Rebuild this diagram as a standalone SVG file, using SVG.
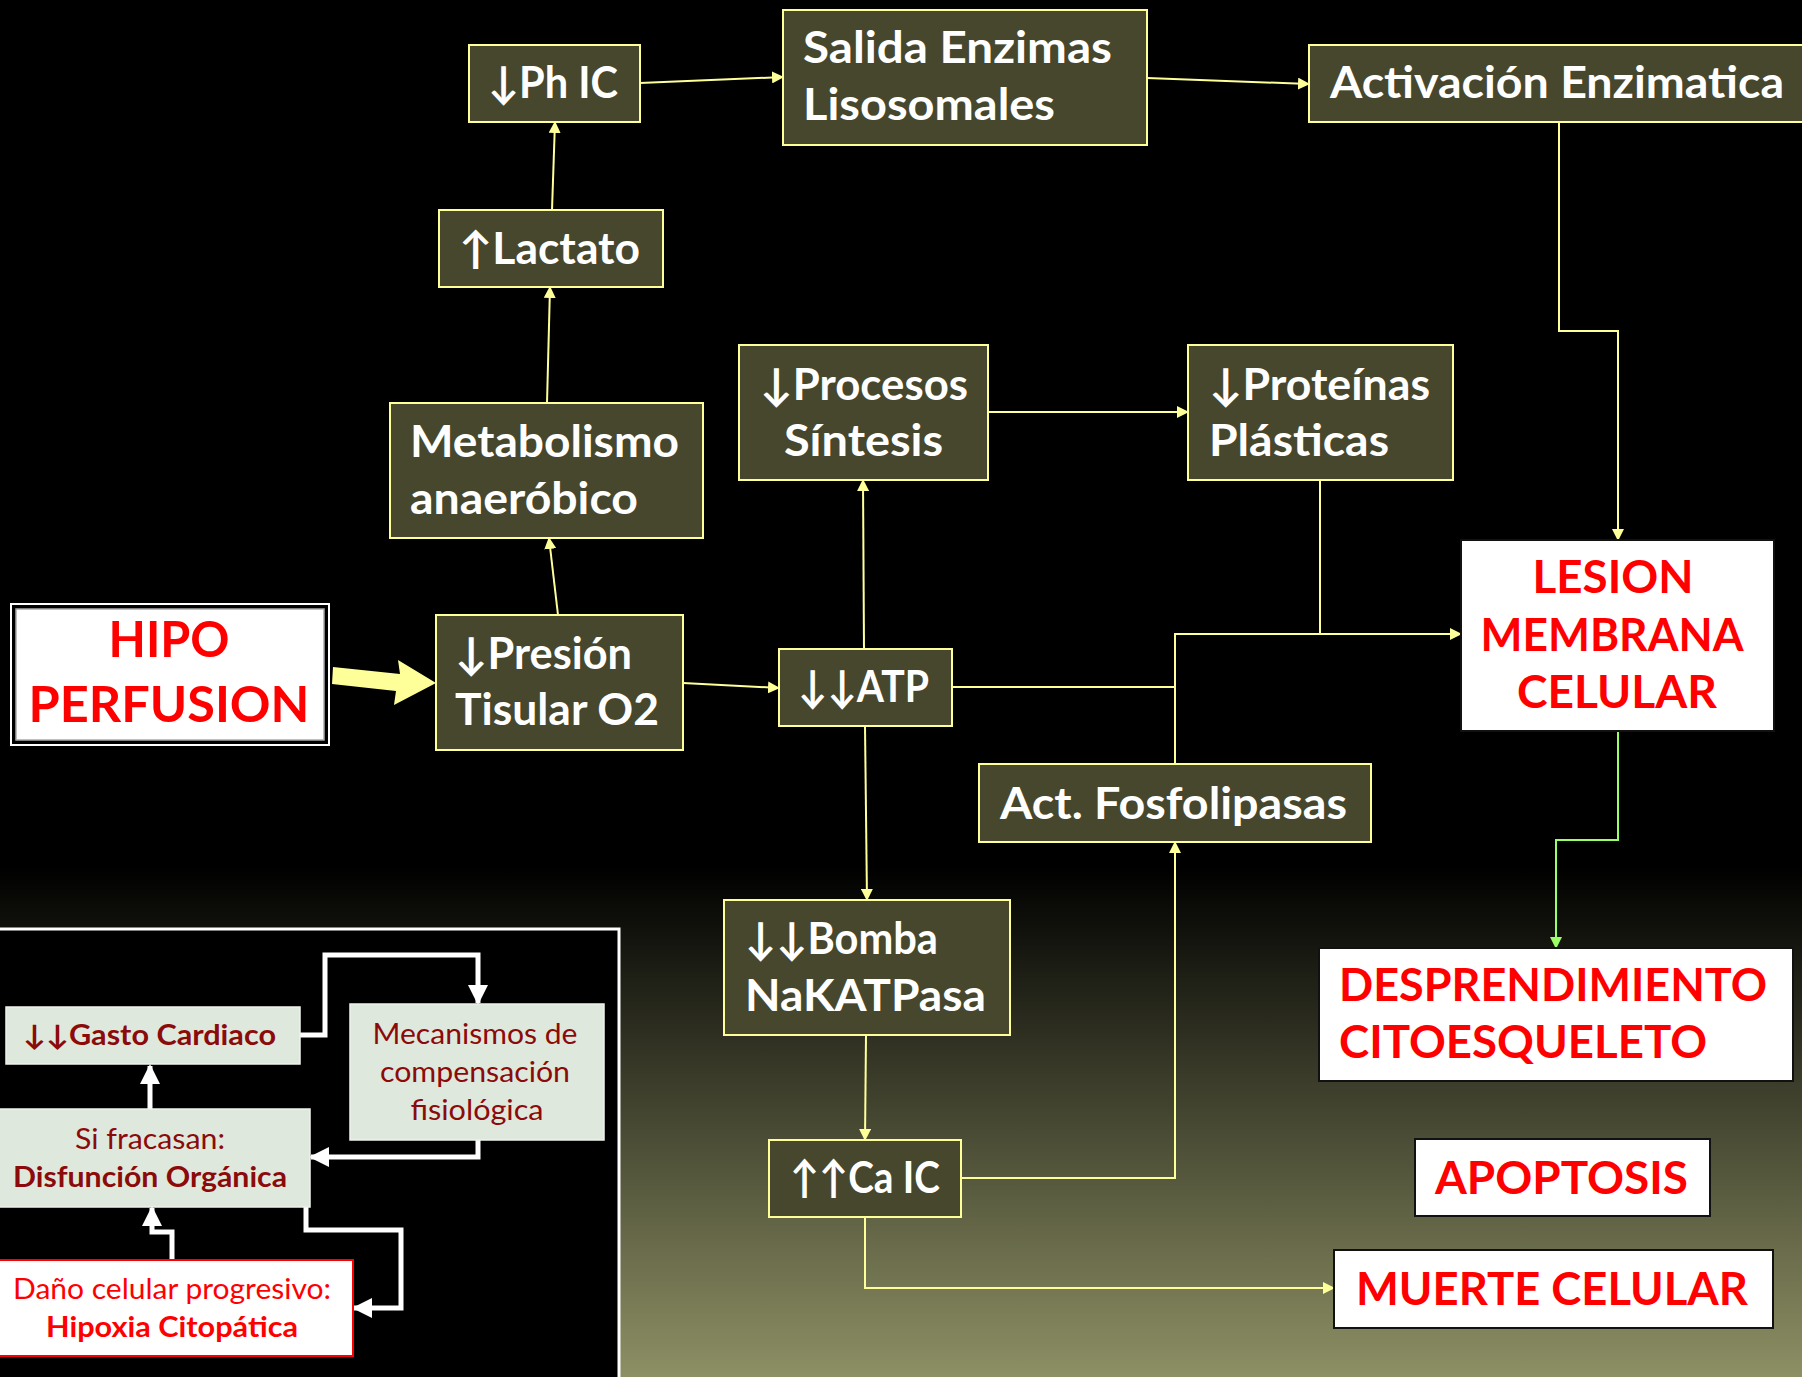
<svg xmlns="http://www.w3.org/2000/svg" width="1802" height="1377" viewBox="0 0 1802 1377">
  <defs>
    <linearGradient id="bg" x1="0" y1="0" x2="0" y2="1377" gradientUnits="userSpaceOnUse">
      <stop offset="0" stop-color="#000"/>
      <stop offset="0.63" stop-color="#000"/>
      <stop offset="1" stop-color="#8d9064"/>
    </linearGradient>
    <marker id="ay" viewBox="0 0 12 12" refX="11" refY="6" markerWidth="12" markerHeight="12" markerUnits="userSpaceOnUse" orient="auto">
      <path d="M0,0 L12,6 L0,12 z" fill="#ffff99"/>
    </marker>
    <marker id="ag" viewBox="0 0 12 12" refX="11" refY="6" markerWidth="12" markerHeight="12" markerUnits="userSpaceOnUse" orient="auto">
      <path d="M0,0 L12,6 L0,12 z" fill="#99ff66"/>
    </marker>
    <marker id="aw" viewBox="0 0 10 10" refX="9" refY="5" markerWidth="20" markerHeight="20" markerUnits="userSpaceOnUse" orient="auto">
      <path d="M0,0 L10,5 L0,10 z" fill="#fff"/>
    </marker>
  </defs>
  <style>
    .n rect { fill: #46472d; stroke: #ffff99; stroke-width: 2; }
    .n text { fill: #fff; font-family: Lato, "Open Sans", "DejaVu Sans", sans-serif; font-weight: bold; font-size: 44px; }
    .r rect { fill: #fff; stroke: #111; stroke-width: 2; }
    .r text { fill: #ff0000; font-family: Lato, "Open Sans", "DejaVu Sans", sans-serif; font-weight: bold; font-size: 46px; }
    .l rect { fill: #dfe8dc; stroke: #eef2ec; stroke-width: 1.5; }
    .l text, .d text { font-family: Lato, "Open Sans", "DejaVu Sans", sans-serif; font-size: 28px; }
    .l text { fill: #8b0a0a; }
    .d rect { fill: #fff; stroke: #ff0000; stroke-width: 2; }
    .d text { fill: #ff0000; }
    .b { font-weight: bold; }
    .c line, .c polyline { fill: none; stroke: #ffff99; stroke-width: 2; }
    .c .g { stroke: #99ff66; }
    .c .big { fill: #ffff99; stroke: none; }
    .w polyline { fill: none; stroke: #fff; stroke-width: 5; }
  </style>

  <rect width="1802" height="1377" fill="url(#bg)"/>

  <!-- inset panel -->
  <rect x="-4" y="929" width="623" height="460" fill="#000" stroke="#fff" stroke-width="3"/>

  <!-- yellow connectors -->
  <g class="c" id="connectors">
    <line x1="640" y1="83" x2="783" y2="77" marker-end="url(#ay)"/>
    <line x1="1147" y1="78" x2="1309" y2="84" marker-end="url(#ay)"/>
    <line x1="552" y1="210" x2="555" y2="122" marker-end="url(#ay)"/>
    <line x1="547" y1="403" x2="550" y2="287" marker-end="url(#ay)"/>
    <line x1="558" y1="615" x2="549" y2="538" marker-end="url(#ay)"/>
    <line x1="683" y1="683" x2="779" y2="688" marker-end="url(#ay)"/>
    <line x1="864" y1="649" x2="863" y2="480" marker-end="url(#ay)"/>
    <line x1="988" y1="412" x2="1188" y2="412" marker-end="url(#ay)"/>
    <polyline points="952,687 1175,687 1175,634 1461,634" marker-end="url(#ay)"/>
    <polyline points="1320,480 1320,634"/>
    <polyline points="1175,764 1175,687"/>
    <line x1="865" y1="726" x2="867" y2="900" marker-end="url(#ay)"/>
    <line x1="866" y1="1035" x2="865" y2="1140" marker-end="url(#ay)"/>
    <polyline points="961,1178 1175,1178 1175,842" marker-end="url(#ay)"/>
    <polyline points="865,1217 865,1288 1334,1288" marker-end="url(#ay)"/>
    <polyline points="1559,122 1559,331 1618,331 1618,540" marker-end="url(#ay)"/>
    <polyline class="g" points="1618,731 1618,840 1556,840 1556,948" marker-end="url(#ag)"/>
    <!-- broad arrow into Presión Tisular -->
    <path class="big" d="M333,667 L400,674 L398,660 L436,683 L394,705 L396,691 L332,684 z"/>
  </g>

  <!-- white connectors of the inset -->
  <g class="w" id="inset-connectors">
    <polyline points="300,1035 325,1035 325,955 478,955 478,1003" marker-end="url(#aw)"/>
    <polyline points="478,1140 478,1157 311,1157" marker-end="url(#aw)"/>
    <polyline points="150,1109 150,1066" marker-end="url(#aw)"/>
    <polyline points="306,1207 306,1230 401,1230 401,1308 354,1308" marker-end="url(#aw)"/>
    <polyline points="172,1260 172,1232 152,1232 152,1208" marker-end="url(#aw)"/>
  </g>

  <!-- process nodes -->
  <g class="n" id="ph-ic"><rect x="469" y="45" width="171" height="77"/><text x="488" y="98" textLength="130" lengthAdjust="spacingAndGlyphs">↓Ph IC</text></g>
  <g class="n" id="salida-enzimas"><rect x="783" y="10" width="364" height="135"/><text x="803" y="63" textLength="309" lengthAdjust="spacingAndGlyphs">Salida Enzimas</text><text x="803" y="120" textLength="252" lengthAdjust="spacingAndGlyphs">Lisosomales</text></g>
  <g class="n" id="activacion"><rect x="1309" y="45" width="510" height="77"/><text x="1330" y="98" textLength="454" lengthAdjust="spacingAndGlyphs">Activación Enzimatica</text></g>
  <g class="n" id="lactato"><rect x="439" y="210" width="224" height="77"/><text x="459" y="264" textLength="181" lengthAdjust="spacingAndGlyphs">↑Lactato</text></g>
  <g class="n" id="metabolismo"><rect x="390" y="403" width="313" height="135"/><text x="410" y="457" textLength="269" lengthAdjust="spacingAndGlyphs">Metabolismo</text><text x="410" y="514" textLength="228" lengthAdjust="spacingAndGlyphs">anaeróbico</text></g>
  <g class="n" id="procesos"><rect x="739" y="345" width="249" height="135"/><text x="760" y="400" textLength="208" lengthAdjust="spacingAndGlyphs">↓Procesos</text><text x="784" y="456" textLength="159" lengthAdjust="spacingAndGlyphs">Síntesis</text></g>
  <g class="n" id="proteinas"><rect x="1188" y="345" width="265" height="135"/><text x="1209" y="400" textLength="221" lengthAdjust="spacingAndGlyphs">↓Proteínas</text><text x="1209" y="456" textLength="180" lengthAdjust="spacingAndGlyphs">Plásticas</text></g>
  <g class="n" id="presion"><rect x="436" y="615" width="247" height="135"/><text x="455" y="669" textLength="177" lengthAdjust="spacingAndGlyphs">↓Presión</text><text x="455" y="725" textLength="204" lengthAdjust="spacingAndGlyphs">Tisular O2</text></g>
  <g class="n" id="atp"><rect x="779" y="649" width="173" height="77"/><text x="798" y="702" textLength="131" lengthAdjust="spacingAndGlyphs">↓↓ATP</text></g>
  <g class="n" id="fosfolipasas"><rect x="979" y="764" width="392" height="78"/><text x="1000" y="819" textLength="347" lengthAdjust="spacingAndGlyphs">Act. Fosfolipasas</text></g>
  <g class="n" id="bomba"><rect x="724" y="900" width="286" height="135"/><text x="745" y="954" textLength="193" lengthAdjust="spacingAndGlyphs">↓↓Bomba</text><text x="745" y="1011" textLength="241" lengthAdjust="spacingAndGlyphs">NaKATPasa</text></g>
  <g class="n" id="ca-ic"><rect x="769" y="1140" width="192" height="77"/><text x="790" y="1193" textLength="150" lengthAdjust="spacingAndGlyphs">↑↑Ca IC</text></g>

  <!-- outcome nodes -->
  <g id="hipoperfusion">
    <rect x="11" y="604" width="318" height="141" fill="none" stroke="#fff" stroke-width="2"/>
    <rect x="16" y="609" width="308" height="131" fill="#fff" stroke="#aaa" stroke-width="1.5"/>
    <text x="169" y="657" text-anchor="middle" fill="#ff0000" font-family="Lato, 'Open Sans', 'DejaVu Sans', sans-serif" font-weight="bold" font-size="50" textLength="121" lengthAdjust="spacingAndGlyphs">HIPO</text>
    <text x="169" y="722" text-anchor="middle" fill="#ff0000" font-family="Lato, 'Open Sans', 'DejaVu Sans', sans-serif" font-weight="bold" font-size="50" textLength="281" lengthAdjust="spacingAndGlyphs">PERFUSION</text>
  </g>
  <g class="r" id="lesion"><rect x="1461" y="540" width="313" height="191" stroke="none"/>
    <text x="1613" y="593" text-anchor="middle" textLength="161" lengthAdjust="spacingAndGlyphs">LESION</text>
    <text x="1612" y="651" text-anchor="middle" textLength="263" lengthAdjust="spacingAndGlyphs">MEMBRANA</text>
    <text x="1617" y="708" text-anchor="middle" textLength="200" lengthAdjust="spacingAndGlyphs">CELULAR</text></g>
  <g class="r" id="desprendimiento"><rect x="1319" y="948" width="474" height="133"/>
    <text x="1339" y="1001" textLength="428" lengthAdjust="spacingAndGlyphs">DESPRENDIMIENTO</text>
    <text x="1339" y="1058" textLength="368" lengthAdjust="spacingAndGlyphs">CITOESQUELETO</text></g>
  <g class="r" id="apoptosis"><rect x="1415" y="1139" width="295" height="77"/>
    <text x="1435" y="1194" textLength="253" lengthAdjust="spacingAndGlyphs">APOPTOSIS</text></g>
  <g class="r" id="muerte"><rect x="1334" y="1250" width="439" height="78"/>
    <text x="1356" y="1305" textLength="392" lengthAdjust="spacingAndGlyphs">MUERTE CELULAR</text></g>

  <!-- inset nodes -->
  <g class="l" id="gasto"><rect x="6" y="1007" width="294" height="57"/>
    <text x="23" y="1045" class="b" textLength="253" lengthAdjust="spacingAndGlyphs">↓↓Gasto Cardiaco</text></g>
  <g class="l" id="mecanismos"><rect x="350" y="1004" width="254" height="136"/>
    <text x="475" y="1044" text-anchor="middle" textLength="205" lengthAdjust="spacingAndGlyphs">Mecanismos de</text>
    <text x="475" y="1082" text-anchor="middle" textLength="190" lengthAdjust="spacingAndGlyphs">compensación</text>
    <text x="477" y="1120" text-anchor="middle" textLength="133" lengthAdjust="spacingAndGlyphs">fisiológica</text></g>
  <g class="l" id="si-fracasan"><rect x="-2" y="1109" width="312" height="98"/>
    <text x="150" y="1149" text-anchor="middle" textLength="150" lengthAdjust="spacingAndGlyphs">Si fracasan:</text>
    <text x="150" y="1187" text-anchor="middle" class="b" textLength="274" lengthAdjust="spacingAndGlyphs">Disfunción Orgánica</text></g>
  <g class="d" id="dano"><rect x="-2" y="1260" width="355" height="96"/>
    <text x="172" y="1299" text-anchor="middle" textLength="318" lengthAdjust="spacingAndGlyphs">Daño celular progresivo:</text>
    <text x="172" y="1337" text-anchor="middle" class="b" textLength="252" lengthAdjust="spacingAndGlyphs">Hipoxia Citopática</text></g>
</svg>
